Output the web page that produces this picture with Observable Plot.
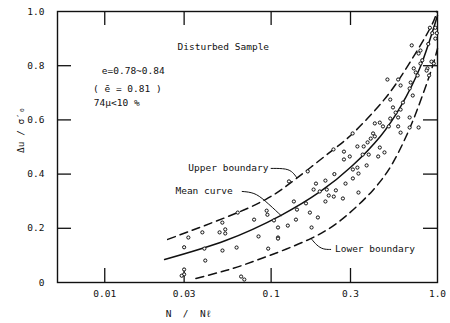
<!DOCTYPE html>
<html>
<head>
<meta charset="utf-8">
<script src="https://cdn.jsdelivr.net/npm/d3@7"></script>
<script src="https://cdn.jsdelivr.net/npm/@observablehq/plot@0.6"></script>
<style>
  html, body { margin: 0; padding: 0; background: #fff; }
</style>
</head>
<body>
<div id="chart"></div>
<script>
// ---- data ----
const xTicks = [0.01, 0.03, 0.1, 0.3, 1.0];
const xTickLabels = ["0.01", "0.03", "0.1", "0.3", "1.0"];
const xInnerTicks = [0.01, 0.03, 0.1, 0.3];
const yTicks = [0, 0.2, 0.4, 0.6, 0.8, 1.0];
const yTickLabels = ["0", "0.2", "0.4", "0.6", "0.8", "1.0"];
const yInnerTicks = [0.2, 0.4, 0.6, 0.8];

const meanX = [0.0229, 0.0533, 0.114, 0.198, 0.304, 0.453, 0.6, 0.79, 1.0];
const meanY = [0.085, 0.155, 0.247, 0.336, 0.428, 0.539, 0.649, 0.797, 0.985];

const upperX = [0.0239, 0.0533, 0.0925, 0.142, 0.237, 0.313, 0.474, 0.67, 0.908, 0.986];
const upperY = [0.159, 0.24, 0.306, 0.384, 0.491, 0.553, 0.672, 0.804, 0.941, 1.0];

const lowerX = [0.0353, 0.0533, 0.081, 0.173, 0.28, 0.407, 0.536, 0.66, 0.76, 0.908, 1.0];
const lowerY = [0.015, 0.044, 0.081, 0.162, 0.244, 0.339, 0.439, 0.55, 0.642, 0.775, 0.863];

const ptX = [0.03,0.03,0.029,0.03,0.0318,0.0386,0.0397,0.0402,0.0509,0.049,0.053,0.053,0.051,0.062,0.063,0.066,0.069,0.079,0.084,0.095,0.094,0.096,0.104,0.11,
  0.309,0.41,0.42,0.397,0.38,0.36,0.355,0.33,0.274,0.297,0.274,0.237,0.386,0.45,0.48,0.44,0.375,0.33,0.31,0.335,0.31,0.28,0.24,0.212,0.186,0.18,0.196,0.216,0.245,0.222,0.238,0.27,0.212,0.335,0.166,0.128,0.137,0.162,0.143,0.171,0.191,0.11,0.126,0.141,0.175,0.11,
  0.9,0.93,0.97,0.97,0.99,0.88,0.7,0.79,0.77,0.92,0.95,0.81,0.79,0.87,0.89,0.86,0.72,0.74,0.76,0.69,0.5,0.58,0.6,0.68,0.71,0.52,0.62,0.54,0.6,0.56,0.52,0.58,0.68,0.45,0.47,0.42,0.51,0.58,0.68,0.77,0.6];
const ptY = [0.048,0.03,0.025,0.13,0.166,0.185,0.125,0.081,0.221,0.185,0.196,0.181,0.118,0.129,0.258,0.022,0.011,0.232,0.17,0.25,0.265,0.125,0.229,0.166,
  0.55,0.55,0.539,0.531,0.517,0.502,0.472,0.502,0.483,0.465,0.454,0.491,0.472,0.498,0.48,0.465,0.432,0.424,0.417,0.402,0.384,0.365,0.4,0.376,0.365,0.343,0.336,0.343,0.34,0.321,0.317,0.31,0.299,0.332,0.41,0.373,0.299,0.292,0.269,0.258,0.24,0.203,0.21,0.232,0.203,0.162,
  0.94,0.92,0.94,0.9,0.92,0.88,0.875,0.856,0.845,0.815,0.808,0.82,0.808,0.79,0.764,0.782,0.79,0.775,0.764,0.738,0.749,0.749,0.727,0.716,0.69,0.675,0.664,0.646,0.638,0.627,0.605,0.609,0.609,0.59,0.576,0.587,0.576,0.576,0.572,0.572,0.553];

const annText = ["Disturbed Sample", "e=0.78~0.84", "( ē = 0.81 )", "74μ<10 %", "Upper boundary", "Mean curve", "Lower boundary"];
const annX = [0.0274, 0.0096, 0.0085, 0.0086, 0.0318, 0.0266, 0.242];
const annY = [0.871, 0.779, 0.716, 0.664, 0.421, 0.336, 0.122];

const leaderUpperX = [0.1, 0.1247, 0.1355, 0.1425];
const leaderUpperY = [0.421, 0.421, 0.406, 0.387];
const leaderMeanX = [0.067, 0.0792, 0.0906, 0.1148];
const leaderMeanY = [0.336, 0.332, 0.306, 0.247];
const leaderLowerX = [0.174, 0.188, 0.205, 0.228];
const leaderLowerY = [0.162, 0.137, 0.122, 0.122];

// ---- build ----
const zip = (xs, ys) => xs.map((x, i) => ({x, y: ys[i]}));
const ink = "#111";
const font = "'DejaVu Sans Mono', 'Liberation Mono', monospace";
const fs = 9.5;

const chart = Plot.plot({
  width: 450,
  height: 323,
  marginLeft: 57,
  marginRight: 13,
  marginTop: 11,
  marginBottom: 41,
  style: {fontFamily: font, fontSize: fs + "px", color: ink, background: "#fff"},
  x: {type: "log", domain: [0.0052, 1]},
  y: {domain: [0, 1]},
  marks: [
    Plot.axisX({ticks: xTicks, tickSize: 0, tickPadding: 8, fontSize: fs, tickFormat: (d) => xTickLabels[xTicks.indexOf(d)], label: null}),
    Plot.axisY({ticks: yTicks, tickSize: 0, tickPadding: 13, fontSize: fs, tickFormat: (d) => yTickLabels[yTicks.indexOf(d)], label: null}),
    Plot.ruleX(xInnerTicks, {x: (d) => d, insetTop: 257, stroke: ink, strokeWidth: 1.3}),
    Plot.ruleX(xInnerTicks, {x: (d) => d, insetBottom: 257, stroke: ink, strokeWidth: 1.3}),
    Plot.ruleY(yInnerTicks, {y: (d) => d, insetRight: 366, stroke: ink, strokeWidth: 1.3}),
    Plot.ruleY(yInnerTicks, {y: (d) => d, insetLeft: 366, stroke: ink, strokeWidth: 1.3}),
    Plot.frame({stroke: ink, strokeWidth: 1.4}),
    Plot.line(zip(meanX, meanY), {x: "x", y: "y", curve: "natural", stroke: ink, strokeWidth: 1.5}),
    Plot.line(zip(upperX, upperY), {x: "x", y: "y", curve: "natural", stroke: ink, strokeWidth: 1.5, strokeDasharray: "8,5"}),
    Plot.line(zip(lowerX, lowerY), {x: "x", y: "y", curve: "natural", stroke: ink, strokeWidth: 1.5, strokeDasharray: "8,5"}),
    Plot.line(zip(leaderUpperX, leaderUpperY), {x: "x", y: "y", curve: "basis", stroke: ink, strokeWidth: 1}),
    Plot.line(zip(leaderMeanX, leaderMeanY), {x: "x", y: "y", curve: "basis", stroke: ink, strokeWidth: 1}),
    Plot.line(zip(leaderLowerX, leaderLowerY), {x: "x", y: "y", curve: "basis", stroke: ink, strokeWidth: 1}),
    Plot.dot(zip(ptX, ptY), {x: "x", y: "y", r: 1.6, stroke: ink, strokeWidth: 1, fill: "#fff"}),
    Plot.text(annText.map((t, i) => ({t, x: annX[i], y: annY[i]})), {x: "x", y: "y", text: "t", textAnchor: "start", fontSize: fs, fill: ink}),
    Plot.text(["N  /  N\u2113"], {frameAnchor: "bottom", dx: -59, dy: 34, fontSize: fs, fill: ink}),
    Plot.text(["\u0394u / \u03C3\u2032\u2080"], {frameAnchor: "left", rotate: -90, dx: -37, dy: 6, fontSize: fs, fill: ink})
  ]
});
document.getElementById("chart").appendChild(chart);
</script>
</body>
</html>
